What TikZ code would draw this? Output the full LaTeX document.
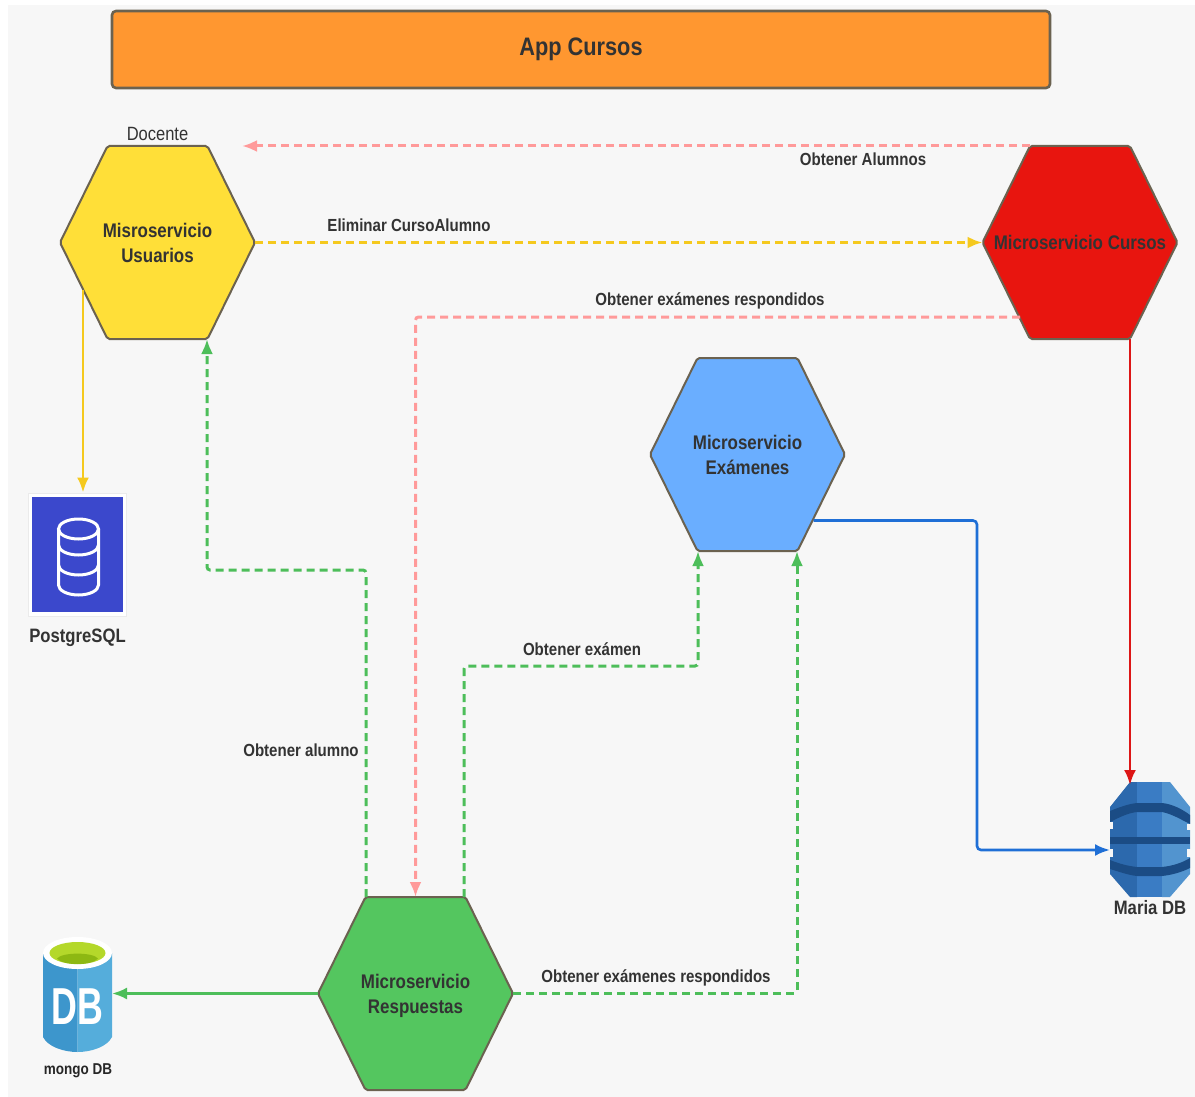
\documentclass[tikz,border=0pt]{standalone}
\usepackage{fontspec}
\setmainfont[FakeStretch=0.86]{Liberation Sans}
\usetikzlibrary{arrows.meta,calc}

\definecolor{bgcol}{HTML}{F7F7F7}
\definecolor{edgecol}{HTML}{6B6250}
\definecolor{txtcol}{HTML}{333333}
\definecolor{orangecol}{HTML}{FF9730}
\definecolor{yellowcol}{HTML}{FFDF38}
\definecolor{redcol}{HTML}{E8150F}
\definecolor{bluecol}{HTML}{6AAEFF}
\definecolor{greencol}{HTML}{54C65F}
\definecolor{pinkline}{HTML}{FF9A9A}
\definecolor{yellowline}{HTML}{F5C91E}
\definecolor{greenline}{HTML}{4DBE5A}
\definecolor{blueline}{HTML}{1F6FD6}
\definecolor{redline}{HTML}{DD1616}
\definecolor{pgblue}{HTML}{3B48CC}
\definecolor{mariadark}{HTML}{2C69AD}
\definecolor{mariamid}{HTML}{3A7CC4}
\definecolor{marialight}{HTML}{5294CF}
\definecolor{mariaband}{HTML}{1B4C85}

\tikzset{
  hexa/.style={minimum width=195pt, minimum height=193pt, inner sep=0pt, outer sep=0pt,
    align=center, text=txtcol, font=\fontsize{19.7}{25}\selectfont\bfseries},
  hexline/.style={draw=edgecol, line width=2pt, rounded corners=2pt},
  lbl/.style={text=txtcol, font=\fontsize{17.5}{20}\selectfont\bfseries, inner sep=0pt},
  biglbl/.style={text=txtcol, font=\fontsize{19.4}{22}\selectfont\bfseries, inner sep=0pt},
  tip/.style={-{Latex[length=15pt,width=12pt]}},
  dashline/.style={tip, dash pattern=on 8pt off 5pt, line width=3pt, rounded corners=3pt, draw=#1},
  solidline/.style={tip, line width=2.6pt, rounded corners=4pt, draw=#1},
  cylline/.style={white, line width=3pt}
}

\newcommand{\HexNode}[5]{
  \filldraw[hexline, fill=#4, shift={(#2,#3)}] (-97.5,0) -- (-50,-96.5) -- (50,-96.5) -- (97.5,0)
    -- (50,96.5) -- (-50,96.5) -- cycle;
  \node[hexa] (#1) at (#2,#3) {#5};
}

\begin{document}
\begin{tikzpicture}[x=1pt,y=-1pt]
  \useasboundingbox (0,0) rectangle (1195,1097);
  \fill[bgcol] (8,5) rectangle (1195,1097);

  \node[draw=edgecol, line width=2.6pt, fill=orangecol, rounded corners=4pt, minimum width=938pt,
    minimum height=77pt, text=txtcol, font=\fontsize{25.3}{30}\selectfont\bfseries] (app) at (581,49.5) {App Cursos};

  \HexNode{usuarios}{157.5}{242.5}{yellowcol}{Misroservicio\\Usuarios}
  \HexNode{cursos}{1080}{242.5}{redcol}{Microservicio Cursos}
  \HexNode{examenes}{747.5}{454.5}{bluecol}{Microservicio\\Exámenes}
  \HexNode{respuestas}{415.5}{993.5}{greencol}{Microservicio\\\smash{Respuestas}}

  \node[text=txtcol, font=\fontsize{19.2}{20}\selectfont, inner sep=0pt] (docente) at (157.5,134) {Docente};

  % postgres
  \node[fill=white, draw=black!8, line width=1pt, minimum width=98pt, minimum height=123pt] (postgres) at (77,554.5) {};
  \fill[pgblue] (32,497) rectangle (123,612);
  \draw[cylline] (58.5,529) -- (58.5,585) arc[start angle=180, end angle=360, x radius=20pt, y radius=10pt] -- (98.5,529);
  \draw[cylline] (78.5,529) ellipse[x radius=20pt, y radius=10pt];
  \draw[cylline] (58.5,545) arc[start angle=180, end angle=360, x radius=20pt, y radius=10pt];
  \draw[cylline] (58.5,565) arc[start angle=180, end angle=360, x radius=20pt, y radius=10pt];
  \node[biglbl] (postgrestxt) at (77.5,638) {PostgreSQL};

  % maria
  \node[minimum width=80pt, minimum height=115pt, inner sep=0pt, outer sep=0pt] (maria) at (1150,839.5) {};
  \fill[mariadark] (1130,782) -- (1137,782) -- (1137,897) -- (1130,897) -- (1110,874) -- (1110,807) -- cycle;
  \fill[mariamid] (1137,782) rectangle (1162,897);
  \fill[marialight] (1162,782) -- (1170,782) -- (1190,807) -- (1190,874) -- (1170,897) -- (1162,897) -- cycle;
  \fill[mariaband] (1110,811) .. controls (1120,807) and (1128,804) .. (1137,803)
    -- (1162,803) .. controls (1172,804) and (1182,809) .. (1190,815) -- (1190,824)
    .. controls (1180,819) and (1172,814) .. (1162,812) -- (1137,812) .. controls (1128,813) and (1120,817) .. (1110,822) -- cycle;
  \fill[mariaband] (1110,837) rectangle (1190,844);
  \fill[mariaband] (1110,860) .. controls (1120,864) and (1128,866) .. (1137,867)
    -- (1162,867) .. controls (1172,866) and (1182,863) .. (1190,858) -- (1190,868)
    .. controls (1182,872) and (1172,875) .. (1162,876) -- (1137,876) .. controls (1128,875) and (1120,872) .. (1110,869) -- cycle;
  \fill[bgcol] (1108,822) rectangle (1113,829);
  \fill[bgcol] (1187,824) rectangle (1192,830);
  \fill[bgcol] (1108,849) rectangle (1113,857);
  \fill[bgcol] (1187,849) rectangle (1192,857);
  \node[biglbl] (mariatxt) at (1150,908) {Maria DB};

  % mongo
  \node[minimum width=69pt, minimum height=114pt, inner sep=0pt, outer sep=0pt] (mongo) at (77.5,995) {};
  \fill[fill={rgb,255:red,61;green,150;blue,204}] (43,953) -- (43,1037) .. controls (48,1047) and (64,1052) .. (77.5,1052) -- (77.5,953) -- cycle;
  \fill[fill={rgb,255:red,85;green,173;blue,219}] (112,953) -- (112,1037) .. controls (107,1047) and (91,1052) .. (77.5,1052) -- (77.5,953) -- cycle;
  \fill[white] (77.5,953) ellipse[x radius=34.5pt, y radius=16pt];
  \fill[fill={rgb,255:red,180;green,216;blue,42}] (77.5,953) ellipse[x radius=28pt, y radius=11pt];
  \fill[fill={rgb,255:red,141;green,184;blue,18}] (57,958.5) .. controls (62,952) and (93,952) .. (98,958.5)
    .. controls (92,966) and (63,966) .. (57,958.5) -- cycle;
  \node[white, font=\fontsize{52}{52}\selectfont\bfseries, inner sep=0pt] (dbtxt) at (77.5,1007) {\scalebox{0.8}[1]{DB}};
  \node[text=black!85, font=\fontsize{15.7}{18}\selectfont\bfseries, inner sep=0pt] (mongotxt) at (78,1071) {mongo DB};

  % dashed
  \coordinate (docarrow) at (242,146);
  \draw[dashline=pinkline] ([xshift=-50pt]cursos.north) -- (docarrow);
  \draw[dashline=yellowline] (usuarios.east) -- (cursos.west);
  \draw[dashline=pinkline] ([xshift=-60pt,yshift=22pt]cursos.south) -| (respuestas.north);
  \draw[dashline=greenline] ([xshift=-49.5pt]respuestas.north) |- (207,570) -- ([xshift=49.5pt]usuarios.south);
  \draw[dashline=greenline] ([xshift=48.5pt]respuestas.north) |- (698,666) -- ([xshift=-49.5pt]examenes.south);
  \draw[dashline=greenline] (respuestas.east) -| ([xshift=49.5pt]examenes.south);

  % solid
  \draw[solidline=yellowline] ([xshift=-74.5pt,yshift=-47pt]usuarios.center) -- ([xshift=6pt]postgres.north);
  \draw[solidline=redline] ([xshift=50pt]cursos.south) -- ([xshift=-20pt,yshift=-3pt]maria.north);
  \draw[solidline=blueline] ([xshift=66pt,yshift=-66pt]examenes.center) -| (977,850) -- ([yshift=-10.5pt]maria.west);
  \draw[solidline=greenline] (respuestas.west) -- ([yshift=1.5pt]mongo.east);

  \node[lbl] (obtalumnos) at (863,159) {Obtener Alumnos};
  \node[lbl] (elimcurso) at (409,225) {Eliminar CursoAlumno};
  \node[lbl] (obtresp) at (710,301) {Obtener exámenes respondidos};
  \node[lbl] (obtalumno) at (301,750) {Obtener alumno};
  \node[lbl] (obtexamen) at (582,649) {Obtener exámen};
  \node[lbl] (obtresptwo) at (656,978) {Obtener exámenes respondidos};
\end{tikzpicture}
\end{document}
